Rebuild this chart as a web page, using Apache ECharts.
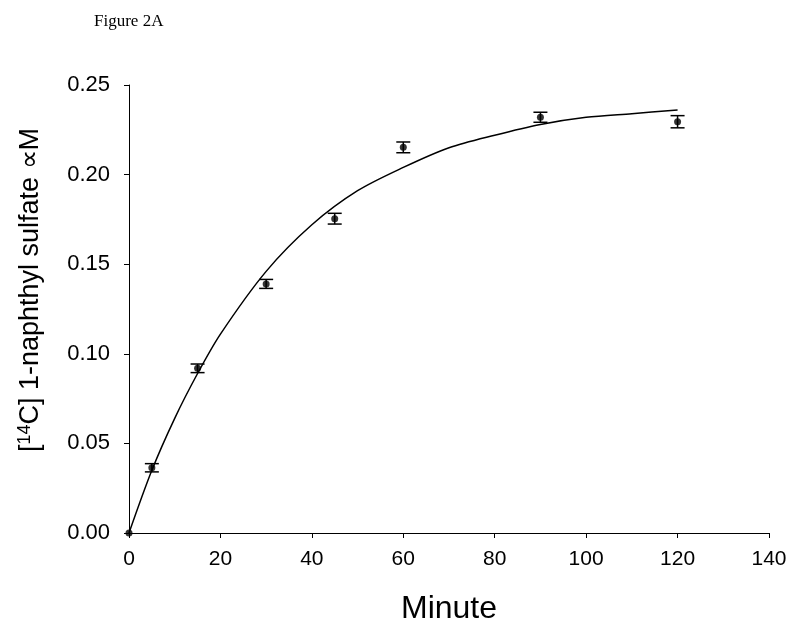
<!DOCTYPE html>
<html>
<head>
<meta charset="utf-8">
<script src="https://cdn.jsdelivr.net/npm/echarts@6/dist/echarts.min.js"></script>
<style>
  html, body { margin: 0; padding: 0; background: #fff; }
  #main { width: 800px; height: 638px; }
</style>
</head>
<body>
<div id="main"></div>
<script>
// measured points (minute, concentration) with error (+/-)
const minutes = [0, 5, 15, 30, 45, 60, 90, 120];
const conc = [0, 0.0364, 0.0919, 0.139, 0.1754, 0.2152, 0.232, 0.2295];
const errs = [0, 0.0023, 0.0024, 0.0025, 0.003, 0.003, 0.0028, 0.0034];

// fitted curve
const fitX = [0, 5, 10, 15, 20, 30, 40, 50, 60, 70, 80, 90, 100, 110, 120];
const fitY = [0, 0.035, 0.064, 0.089, 0.111, 0.146, 0.172, 0.191, 0.204, 0.215, 0.222, 0.228, 0.232, 0.234, 0.236];

const chart = echarts.init(document.getElementById('main'));

const pointData = minutes.map((m, i) => [m, conc[i]]);
const errData = minutes.map((m, i) => [m, conc[i] - errs[i], conc[i] + errs[i]]).filter((d, i) => errs[i] > 0);
const fitData = fitX.map((x, i) => [x, fitY[i]]);

const option = {
  animation: false,
  backgroundColor: '#fff',
  title: {
    text: 'Figure 2A',
    left: 89,
    top: 8,
    textStyle: { fontFamily: 'Liberation Serif', fontWeight: 'normal', fontSize: 17, color: '#000' }
  },
  grid: { left: 129, right: 31, top: 85, bottom: 105, containLabel: false },
  xAxis: {
    type: 'value',
    min: 0,
    max: 140,
    interval: 20,
    name: 'Minute',
    nameLocation: 'middle',
    nameGap: 60,
    nameTextStyle: { fontFamily: 'Liberation Sans', fontSize: 32, color: '#000', verticalAlign: 'top' },
    axisLine: { show: true, onZero: false, lineStyle: { color: '#000', width: 1 } },
    axisTick: { show: true, inside: false, length: 5, lineStyle: { color: '#000' } },
    axisLabel: { margin: 16, fontFamily: 'Liberation Sans', fontSize: 21, color: '#000' },
    splitLine: { show: false }
  },
  yAxis: {
    type: 'value',
    min: 0,
    max: 0.25,
    interval: 0.05,
    name: '[{sup|14}C] 1-naphthyl sulfate \u221DM',
    nameLocation: 'middle',
    nameRotate: 90,
    nameGap: 83,
    nameTextStyle: {
      fontFamily: 'Liberation Sans', fontSize: 27, color: '#000',
      padding: [0, 0, 0, 38],
      rich: {
        sup: { fontFamily: 'Liberation Sans', fontSize: 18, color: '#000', padding: [0, 0, 12, 0] }
      }
    },
    axisLine: { show: true, onZero: false, lineStyle: { color: '#000', width: 1 } },
    axisTick: { show: true, inside: false, length: 5, lineStyle: { color: '#000' } },
    axisLabel: {
      margin: 19, fontFamily: 'Liberation Sans', fontSize: 22, color: '#000',
      formatter: v => v.toFixed(2)
    },
    splitLine: { show: false }
  },
  series: [
    {
      name: 'fit',
      type: 'line',
      data: fitData,
      smooth: 0.3,
      showSymbol: false,
      lineStyle: { color: '#000', width: 1.5 },
      z: 2
    },
    {
      name: 'error',
      type: 'custom',
      data: errData,
      renderItem: (params, api) => {
        const x = api.value(0);
        const lo = api.coord([x, api.value(1)]);
        const hi = api.coord([x, api.value(2)]);
        const half = 7;
        const style = { stroke: '#000', lineWidth: 1.5 };
        return {
          type: 'group',
          children: [
            { type: 'line', shape: { x1: lo[0], y1: lo[1], x2: hi[0], y2: hi[1] }, style },
            { type: 'line', shape: { x1: lo[0] - half, y1: lo[1], x2: lo[0] + half, y2: lo[1] }, style },
            { type: 'line', shape: { x1: hi[0] - half, y1: hi[1], x2: hi[0] + half, y2: hi[1] }, style }
          ]
        };
      },
      z: 3
    },
    {
      name: 'points',
      type: 'scatter',
      data: pointData,
      symbol: 'circle',
      symbolSize: 7,
      itemStyle: { color: '#000' },
      z: 4
    }
  ]
};

chart.setOption(option);
</script>
</body>
</html>
